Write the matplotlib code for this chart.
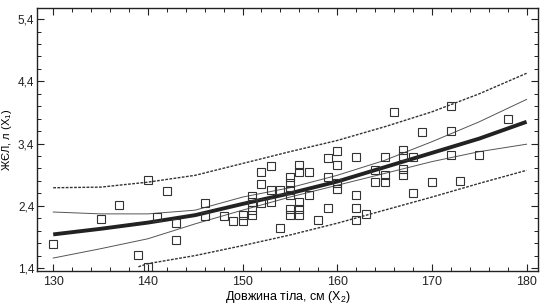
import numpy as np
import matplotlib
matplotlib.use('Agg')
import matplotlib.pyplot as plt
from matplotlib.ticker import MultipleLocator, FuncFormatter

plt.rcParams['font.family'] = ['Liberation Sans', 'DejaVu Sans']

# Точки (довжина тіла, ЖЄЛ)
dovzhyna = [130, 135, 137, 139, 140, 140, 141, 142, 143, 143, 146, 146, 148, 149,
            150, 150, 151, 151, 151, 151, 152, 152, 152, 153, 153, 153, 154, 154,
            155, 155, 155, 155, 155, 155, 156, 156, 156, 156, 156, 157, 157, 158,
            159, 159, 159, 160, 160, 160, 160, 162, 162, 162, 162, 163, 164, 164,
            165, 165, 165, 166, 167, 167, 167, 167, 168, 168, 169, 170, 172, 172,
            172, 173, 175, 178]
zhel = [1.79, 2.19, 2.42, 1.61, 2.81, 1.42, 2.22, 2.63, 2.13, 1.85, 2.44, 2.23, 2.24, 2.15,
        2.15, 2.25, 2.55, 2.46, 2.34, 2.25, 2.94, 2.75, 2.45, 3.04, 2.66, 2.46, 2.05, 2.65,
        2.86, 2.76, 2.65, 2.57, 2.35, 2.26, 3.05, 2.95, 2.46, 2.35, 2.26, 2.95, 2.57, 2.17,
        3.17, 2.86, 2.37, 3.28, 3.06, 2.77, 2.67, 3.18, 2.58, 2.37, 2.17, 2.27, 2.97, 2.78,
        3.19, 2.89, 2.78, 3.90, 3.29, 3.20, 2.99, 2.89, 3.19, 2.60, 3.59, 2.79, 4.00, 3.60,
        3.21, 2.80, 3.21, 3.80]

# Лінія регресії та межі
x_line = [130, 135, 140, 145, 150, 155, 160, 165, 170, 175, 180]
regr = [1.94, 2.03, 2.13, 2.25, 2.43, 2.60, 2.79, 3.02, 3.25, 3.48, 3.75]
conf_up = [2.30, 2.27, 2.27, 2.33, 2.54, 2.69, 2.89, 3.13, 3.43, 3.75, 4.11]
conf_lo = [1.56, 1.71, 1.87, 2.11, 2.33, 2.54, 2.73, 2.92, 3.11, 3.27, 3.39]
pred_up = [2.69, 2.70, 2.78, 2.89, 3.08, 3.27, 3.45, 3.67, 3.91, 4.20, 4.53]
x_pred_lo = [139, 140, 145, 150, 155, 160, 165, 170, 175, 180]
pred_lo = [1.42, 1.47, 1.60, 1.76, 1.93, 2.12, 2.33, 2.54, 2.76, 2.97]

fig = plt.figure(figsize=(5.54, 3.06), dpi=100)
ax = fig.add_axes([0.067, 0.114, 0.904, 0.86])

ax.plot(x_line, pred_up, color='#333333', lw=1.0, ls=(0, (2, 1)))
ax.plot(x_pred_lo, pred_lo, color='#333333', lw=1.0, ls=(0, (2, 1)))
ax.plot(x_line, conf_up, color='#555555', lw=0.7)
ax.plot(x_line, conf_lo, color='#555555', lw=0.7)
ax.plot(x_line, regr, color='#222222', lw=2.8, solid_capstyle='butt')
ax.plot(dovzhyna, zhel, ls='none', marker='s', markersize=5.5,
        markerfacecolor='none', markeredgecolor='#333333', markeredgewidth=0.8)

ax.set_xlim(128.3, 181.2)
ax.set_ylim(1.35, 5.58)
ax.xaxis.set_major_locator(MultipleLocator(10))
ax.xaxis.set_minor_locator(MultipleLocator(2))
ax.set_yticks([1.4, 2.4, 3.4, 4.4, 5.4])
ax.yaxis.set_minor_locator(MultipleLocator(0.2))
ax.yaxis.set_major_formatter(FuncFormatter(lambda v, p: f'{v:.1f}'.replace('.', ',')))
ax.tick_params(which='both', direction='in', top=True, right=True, labelsize=9, colors='#222222')
ax.tick_params(which='major', length=5, width=0.8)
ax.tick_params(which='minor', length=3, width=0.7)
ax.tick_params(axis='y', pad=2, labelsize=8.5)
for s in ax.spines.values():
    s.set_linewidth(1.0)
    s.set_color('#222222')

ax.set_xlabel('Довжина тіла, см ($\\mathregular{X_2}$)', fontsize=9, labelpad=1)
ax.set_ylabel('ЖЄЛ, л ($\\mathregular{X_1}$)', fontsize=8)
ax.yaxis.set_label_coords(-0.046, 0.5)

fig.savefig('out.png', dpi=100)
